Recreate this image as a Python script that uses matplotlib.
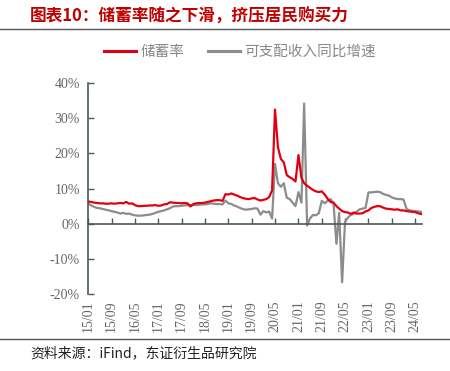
import matplotlib
matplotlib.use("Agg")
import matplotlib.pyplot as plt
import matplotlib.dates as mdates
import pandas as pd

# ---- data (monthly, 2015/01 - 2024/07) ----
start_month = "2015-01"
savings_rate = [
    6.3, 6.2, 6.0, 5.9, 5.8, 5.8, 5.7, 5.7, 5.8, 5.7, 5.8, 5.9,   # 2015
    5.8, 6.2, 5.7, 5.8, 5.3, 5.0, 5.0, 5.1, 5.1, 5.2, 5.2, 5.3,   # 2016
    5.1, 5.2, 5.5, 5.6, 6.1, 6.0, 5.9, 5.9, 5.8, 5.9, 5.8, 4.9,   # 2017
    5.6, 5.8, 5.9, 5.9, 6.0, 6.2, 6.4, 6.6, 6.7, 6.7, 6.5, 8.4,   # 2018
    8.3, 8.6, 8.3, 8.0, 7.6, 7.3, 7.1, 7.0, 7.2, 7.3, 6.9, 6.6,   # 2019
    6.8, 7.0, 7.6, 9.5, 32.4, 21.7, 18.4, 17.4, 13.8, 13.2, 12.7, 12.0,  # 2020
    19.5, 13.0, 11.5, 10.8, 10.2, 9.6, 9.2, 9.0, 9.2, 8.3, 7.1, 6.2,    # 2021
    6.0, 5.0, 4.3, 3.6, 3.3, 3.2, 2.8, 3.2, 2.9, 2.9, 3.0, 3.5,   # 2022
    3.8, 4.5, 4.8, 5.0, 5.0, 4.6, 4.3, 4.2, 4.1, 4.0, 4.1, 3.8,   # 2023
    3.8, 3.6, 3.5, 3.4, 3.3, 3.0, 2.8,                           # 2024
]
income_growth = [
    5.7, 5.2, 4.8, 4.5, 4.4, 4.2, 4.0, 3.8, 3.6, 3.4, 3.2, 2.9,   # 2015
    3.1, 2.8, 2.9, 2.6, 2.4, 2.3, 2.3, 2.4, 2.5, 2.6, 2.8, 3.1,   # 2016
    3.4, 3.6, 3.8, 4.1, 4.4, 4.9, 5.0, 5.0, 5.1, 5.2, 5.3, 5.3,   # 2017
    5.3, 5.3, 5.4, 5.5, 5.5, 5.6, 5.8, 5.7, 5.6, 5.6, 5.5, 6.6,   # 2018
    5.8, 5.6, 5.2, 4.9, 4.5, 4.2, 4.0, 4.1, 4.2, 4.4, 4.3, 2.6,   # 2019
    3.6, 3.2, 3.5, 1.5, 17.0, 11.5, 10.5, 11.5, 7.4, 7.0, 6.0, 5.0,    # 2020
    9.0, 6.0, 34.1, -0.5, 1.5, 2.5, 2.4, 3.0, 6.5, 5.8, 6.5, 7.0,     # 2021
    5.8, -5.7, 3.1, -16.6, 0.5, 1.8, 2.5, 2.8, 3.5, 4.1, 4.3, 4.5,    # 2022
    8.9, 8.9, 9.0, 9.1, 9.0, 8.5, 8.2, 8.0, 7.5, 7.2, 7.0, 7.0,   # 2023
    6.9, 4.3, 3.8, 3.7, 3.6, 3.5, 3.4,                           # 2024
]
series_names = ["储蓄率", "可支配收入同比增速"]
title_text = "图表10：储蓄率随之下滑，挤压居民购买力"
source_text = "资料来源：iFind，东证衍生品研究院"
y_ticks = [-20, -10, 0, 10, 20, 30, 40]

dates = pd.date_range(start_month, periods=len(savings_rate), freq="MS")

CJK = ["Noto Sans CJK SC", "DejaVu Sans"]
SERIF = ["Liberation Serif", "DejaVu Serif"]

fig = plt.figure(figsize=(4.5, 3.71), dpi=100)
fig.patch.set_facecolor("white")

ax = fig.add_axes([0.1962, 0.2067, 0.9384 - 0.1962, 0.777 - 0.2067])
ax.plot(dates, savings_rate, color="#E00010", lw=1.6, label=series_names[0], zorder=3)
ax.plot(dates, income_growth, color="#8C8C8C", lw=1.6, label=series_names[1], zorder=2)

ax.set_ylim(-20, 40)
ax.set_yticks(y_ticks)
ax.set_yticklabels([f"{v}%" for v in y_ticks])
ax.set_xlim(pd.Timestamp("2015-01-01"), pd.Timestamp("2024-07-15"))

xt = pd.date_range("2015-01-01", "2024-07-01", freq="8MS")
ax.set_xticks(xt)
ax.xaxis.set_major_formatter(mdates.DateFormatter("%y/%m"))

spine_c = "#4A5A5C"
for s in ["top", "right"]:
    ax.spines[s].set_visible(False)
ax.spines["left"].set_color(spine_c)
ax.spines["left"].set_linewidth(1.2)
ax.spines["bottom"].set_position(("data", 0))
ax.spines["bottom"].set_color(spine_c)
ax.spines["bottom"].set_linewidth(1.2)

ax.tick_params(axis="y", direction="in", length=4, width=1, color=spine_c,
               labelsize=10, labelcolor="#666666", pad=6)
ax.tick_params(axis="x", direction="in", length=4, width=1, color=spine_c,
               labelsize=10, labelcolor="#666666", pad=55, labelrotation=90)
for lab in ax.get_xticklabels() + ax.get_yticklabels():
    lab.set_fontfamily(SERIF)
for lab in ax.get_xticklabels():
    lab.set_va("top")

leg = ax.legend(loc="center", bbox_to_anchor=(240 / 450, 1 - 52 / 371),
                bbox_transform=fig.transFigure, ncol=2, frameon=False,
                handlelength=2.2, handletextpad=0.3, columnspacing=1.6,
                prop={"family": CJK, "size": 10.5})
for t in leg.get_texts():
    t.set_color("#888888")
for h in leg.get_lines():
    h.set_linewidth(2.2)

fig.text(30 / 450, 1 - 17 / 371, title_text, color="#C00000", fontsize=12,
         fontweight="bold", family=CJK, va="center", ha="left")
fig.add_artist(plt.Line2D([0, 1], [1 - 29 / 371, 1 - 29 / 371], color="#555555", lw=1,
                          transform=fig.transFigure))
fig.add_artist(plt.Line2D([0, 1], [1 - 339 / 371, 1 - 339 / 371], color="#555555", lw=1,
                          transform=fig.transFigure))
fig.text(30 / 450, 1 - 353 / 371, source_text, color="#222222", fontsize=10,
         family=CJK, va="center", ha="left")

fig.savefig("out.png", dpi=100, facecolor="white")
